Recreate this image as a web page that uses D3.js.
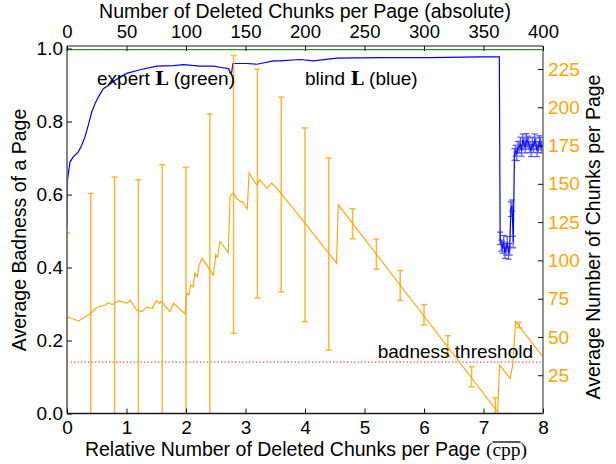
<!DOCTYPE html>
<html>
<head>
<meta charset="utf-8">
<script src="https://cdn.jsdelivr.net/npm/d3@7/dist/d3.min.js"></script>
<style>
  body { margin: 0; background: #fff; }
  text { font-family: "Liberation Sans", Arial, Helvetica, sans-serif; }
</style>
</head>
<body>
<svg id="chart" width="616" height="464"></svg>
<script>
// ---- Blind L: average badness per page vs. absolute number of deleted chunks ----
const blindAbs = [0, 0.4, 2.5, 5.3, 9.5, 12.4, 15.1, 17.9, 20.8, 23.5, 26.3, 30.5, 34.7, 40.4,
  50.2, 61.4, 75.4, 89.4, 97.8, 111.9, 123, 130.1, 135.7, 137.7, 138.4, 139.4, 151.1, 159.5,
  173.5, 179.1, 196, 207.1, 226.8, 263.2, 305.3, 347.4, 363.3];
const blindBad = [0.51, 0.64, 0.689, 0.703, 0.717, 0.735, 0.758, 0.79, 0.826, 0.849, 0.867, 0.89, 0.899, 0.913,
  0.932, 0.942, 0.952, 0.953, 0.956, 0.952, 0.952, 0.948, 0.945, 0.932, 0.935, 0.959, 0.959, 0.957,
  0.966, 0.966, 0.970, 0.966, 0.974, 0.975, 0.975, 0.977, 0.977];

// tail of the blind curve, with standard-error bars
const tailAbs = [364, 365, 366, 367, 368, 369, 370, 371, 372, 373, 374, 375, 376, 377, 378, 379, 380,
  381, 382, 383, 384, 385, 386, 387, 388, 389, 390, 391, 392, 393, 394, 395, 396, 397, 398, 399, 400];
const tailBad = [0.48, 0.46, 0.455, 0.47, 0.44, 0.45, 0.47, 0.44, 0.45, 0.56, 0.57, 0.47, 0.71, 0.72, 0.71,
  0.73, 0.73, 0.74, 0.72, 0.75, 0.74, 0.73, 0.75, 0.745, 0.74, 0.73, 0.72, 0.74, 0.73, 0.75, 0.74, 0.72,
  0.73, 0.745, 0.74, 0.73, 0.73];
const tailErr = [0.017, 0.015, 0.016, 0.018, 0.015, 0.016, 0.015, 0.017, 0.016, 0.02, 0.015, 0.016, 0.016,
  0.015, 0.017, 0.015, 0.016, 0.017, 0.015, 0.016, 0.015, 0.016, 0.017, 0.015, 0.016, 0.015, 0.016, 0.017,
  0.015, 0.016, 0.015, 0.016, 0.015, 0.016, 0.017, 0.015, 0.016];

// ---- Expert L and the badness threshold ----
const expertBad = 0.997;
const badnessThreshold = 0.141;

// ---- Average number of chunks per page vs. relative deletions (cpp) ----
const cppX = [0, 0.195, 0.39, 0.50, 0.64, 0.70, 0.755, 0.87, 1.007, 1.06, 1.17, 1.26, 1.34, 1.43, 1.50,
  1.55, 1.59, 1.73, 1.79, 1.985, 2.01, 2.05, 2.08, 2.12, 2.15, 2.19, 2.22, 2.27, 2.46, 2.50, 2.53, 2.57,
  2.71, 2.74, 2.79, 2.85, 2.92, 2.95, 3.03, 3.06, 3.13, 3.19, 3.24, 3.36, 3.44, 3.50, 3.91, 4.53, 4.56,
  7.24, 7.27, 7.45, 7.49, 7.54, 8.0];
const cppChunks = [63.2, 60.4, 65, 69.4, 70.9, 72.4, 71.1, 73.5, 72, 74.1, 67.6, 66.5, 69.4, 68.7, 73.7,
  72, 73, 66.5, 72, 65, 78.5, 77.4, 84, 82.5, 91.6, 89.4, 97, 101.4, 90.5, 103.6, 102, 112.3,
  105.1, 141.8, 144, 140.7, 138, 138.5, 133.5, 157, 152.7, 149.4, 152.7, 147.2, 150.5, 148.3, 128.7, 98.2, 136.3,
  1, 31.6, 22.9, 31.6, 60, 37];

// error bars (mean ± std) sampled every 0.4 cpp
const barX = [0, 0.4, 0.8, 1.2, 1.6, 2.0, 2.4, 2.8, 3.2, 3.6, 4.0, 4.4, 4.8, 5.2, 5.6, 6.0, 6.4, 6.8, 7.2, 7.6];
const barLo = [-10, -13.7, -9.4, -18.7, -16.5, -4.7, -11.8, 52.4, 75.5, 79.4, 60, 41.4, 114.1, 94.2, 73.9,
  57.8, 37.5, 17.4, -1, 56];
const barHi = [118, 143.7, 154.4, 152.7, 162.5, 160.7, 195.8, 233.8, 224.9, 206.6, 186.5, 166.9, 133.7,
  113.9, 93.3, 71.1, 50.8, 30.5, 10.2, 59.5];

// ---- Axis ticks ----
const badTicks = [0, 0.2, 0.4, 0.6, 0.8, 1.0];
const chunkTicks = [25, 50, 75, 100, 125, 150, 175, 200, 225];
const absTicks = [0, 50, 100, 150, 200, 250, 300, 350, 400];
const relTicks = [0, 1, 2, 3, 4, 5, 6, 7, 8];

// ---- Layout ----
const box = { left: 67, right: 543, top: 46, bottom: 413.5 };
const orange = "#ffa500";
const tickFont = 19;

const svg = d3.select("#chart");
svg.append("rect").attr("width", 616).attr("height", 464).attr("fill", "#fff");

const xRel = d3.scaleLinear().domain([0, 8]).range([box.left, box.right]);
const xAbs = d3.scaleLinear().domain([0, 400]).range([box.left, box.right]);
const yBad = d3.scaleLinear().domain([0, 1.007]).range([box.bottom, box.top]);
const yCnt = d3.scaleLinear().domain([0, 240]).range([box.bottom, box.top]);

svg.append("defs").append("clipPath").attr("id", "plotclip")
  .append("rect").attr("x", box.left).attr("y", box.top)
  .attr("width", box.right - box.left).attr("height", box.bottom - box.top);

const plot = svg.append("g").attr("clip-path", "url(#plotclip)");

// badness threshold
plot.append("line")
  .attr("x1", xAbs(0)).attr("x2", xAbs(400))
  .attr("y1", yBad(badnessThreshold)).attr("y2", yBad(badnessThreshold))
  .attr("stroke", "#ff2a2a").attr("stroke-width", 1.2).attr("stroke-dasharray", "1.3,2.2")
  .attr("opacity", 0.85);

// expert L
plot.append("line")
  .attr("x1", xAbs(0)).attr("x2", xAbs(400))
  .attr("y1", yBad(expertBad)).attr("y2", yBad(expertBad))
  .attr("stroke", "#2f8f2f").attr("stroke-width", 1.3);

// blind L
const blindPts = blindAbs.map((a, i) => [a, blindBad[i]])
  .concat(tailAbs.map((a, i) => [a, tailBad[i]]));
plot.append("path")
  .attr("d", d3.line().x(d => xAbs(d[0])).y(d => yBad(d[1]))(blindPts))
  .attr("fill", "none").attr("stroke", "#0000ff").attr("stroke-width", 1.2);

const tailBars = plot.append("g").attr("stroke", "#1a1aff").attr("stroke-width", 1.2).attr("opacity", 0.75);
tailAbs.forEach((a, i) => {
  const x = xAbs(a), y0 = yBad(tailBad[i] - tailErr[i]), y1 = yBad(tailBad[i] + tailErr[i]);
  tailBars.append("line").attr("x1", x).attr("x2", x).attr("y1", y0).attr("y2", y1);
  tailBars.append("line").attr("x1", x - 3).attr("x2", x + 3).attr("y1", y0).attr("y2", y0);
  tailBars.append("line").attr("x1", x - 3).attr("x2", x + 3).attr("y1", y1).attr("y2", y1);
});

// chunks per page with error bars
const bars = plot.append("g").attr("stroke", orange).attr("stroke-width", 1.5).attr("opacity", 0.8);
barX.forEach((r, i) => {
  const x = xRel(r), y0 = yCnt(barLo[i]), y1 = yCnt(barHi[i]);
  bars.append("line").attr("x1", x).attr("x2", x).attr("y1", y0).attr("y2", y1);
  bars.append("line").attr("x1", x - 3).attr("x2", x + 3).attr("y1", y0).attr("y2", y0);
  bars.append("line").attr("x1", x - 3).attr("x2", x + 3).attr("y1", y1).attr("y2", y1);
});
plot.append("path")
  .attr("d", d3.line().x((d, i) => xRel(cppX[i])).y(d => yCnt(d))(cppChunks))
  .attr("fill", "none").attr("stroke", orange).attr("stroke-width", 1.1);

// ---- Frame ----
const frame = svg.append("g").attr("fill", "none").attr("stroke-width", 1.6);
frame.append("line").attr("x1", box.left).attr("x2", box.right).attr("y1", box.bottom).attr("y2", box.bottom).attr("stroke", "#1a1a1a");
frame.append("line").attr("x1", box.left).attr("x2", box.right).attr("y1", box.top).attr("y2", box.top).attr("stroke", "#666");
frame.append("line").attr("x1", box.left).attr("x2", box.left).attr("y1", box.top).attr("y2", box.bottom).attr("stroke", "#666");
frame.append("line").attr("x1", box.right).attr("x2", box.right).attr("y1", box.top).attr("y2", box.bottom).attr("stroke", "#777");

// ---- Axes (ticks point inward) ----
function styleAxis(g, color, size) {
  g.select(".domain").remove();
  g.selectAll(".tick line").attr("stroke", "#111").attr("stroke-width", 1);
  g.selectAll(".tick text").attr("font-size", size || tickFont).attr("fill", color)
    .attr("font-family", '"Liberation Sans", Arial, sans-serif');
}

svg.append("g").attr("transform", `translate(${box.left},0)`)
  .call(d3.axisLeft(yBad).tickValues(badTicks).tickFormat(d3.format(".1f")).tickSizeInner(-5).tickSizeOuter(0).tickPadding(4))
  .call(g => styleAxis(g, "#000"));

svg.append("g").attr("transform", `translate(${box.right},0)`)
  .call(d3.axisRight(yCnt).tickValues(chunkTicks).tickSizeInner(-5).tickSizeOuter(0).tickPadding(5))
  .call(g => styleAxis(g, orange));

svg.append("g").attr("transform", `translate(0,${box.top})`)
  .call(d3.axisTop(xAbs).tickValues(absTicks).tickSizeInner(-5).tickSizeOuter(0).tickPadding(8.5))
  .call(g => styleAxis(g, "#000", 18.5));

svg.append("g").attr("transform", `translate(0,${box.bottom})`)
  .call(d3.axisBottom(xRel).tickValues(relTicks).tickSizeInner(-5).tickSizeOuter(0).tickPadding(7.5))
  .call(g => styleAxis(g, "#000"));

// ---- Axis titles ----
const titleFont = 19.5;
svg.append("text").attr("x", 305).attr("y", 17.5).attr("text-anchor", "middle")
  .attr("font-size", titleFont).text("Number of Deleted Chunks per Page (absolute)");

const bottomTitle = svg.append("text").attr("x", 306).attr("y", 456).attr("text-anchor", "middle")
  .attr("font-size", titleFont);
bottomTitle.append("tspan").text("Relative Number of Deleted Chunks per Page ");
bottomTitle.append("tspan").attr("font-family", '"Liberation Serif", serif').text("(");
const cppSpan = bottomTitle.append("tspan").attr("font-family", '"Liberation Serif", serif').text("cpp");
bottomTitle.append("tspan").attr("font-family", '"Liberation Serif", serif').text(")");

// overline above "cpp"
{
  const node = cppSpan.node();
  const x0 = node.getStartPositionOfChar(0).x;
  const x1 = node.getEndPositionOfChar(2).x;
  svg.append("line").attr("x1", x0).attr("x2", x1).attr("y1", 442).attr("y2", 442)
    .attr("stroke", "#000").attr("stroke-width", 1.3);
}

svg.append("text").attr("transform", "translate(26,230) rotate(-90)").attr("text-anchor", "middle")
  .attr("font-size", titleFont).text("Average Badness of a Page");

svg.append("text").attr("transform", "translate(600,237) rotate(-90)").attr("text-anchor", "middle")
  .attr("font-size", titleFont).text("Average Number of Chunks per Page");

// ---- Annotations ----
function labelWithL(x, y, before, after) {
  const t = svg.append("text").attr("x", x).attr("y", y).attr("font-size", tickFont);
  t.append("tspan").text(before);
  t.append("tspan").attr("font-family", '"DejaVu Serif", serif').attr("font-weight", "bold").text("L");
  t.append("tspan").text(after);
}
labelWithL(97, 85, "expert ", " (green)");
labelWithL(305, 85, "blind ", " (blue)");

svg.append("text").attr("x", 533).attr("y", 358).attr("text-anchor", "end")
  .attr("font-size", tickFont).text("badness threshold");
</script>
</body>
</html>
